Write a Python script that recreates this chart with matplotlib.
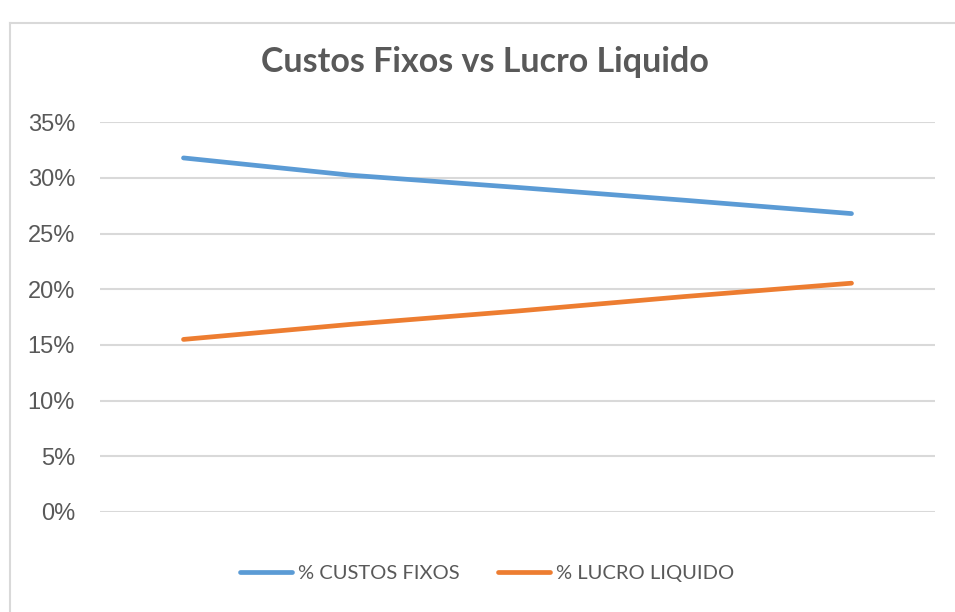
import matplotlib
matplotlib.use("Agg")
import matplotlib.pyplot as plt
from matplotlib.lines import Line2D
from matplotlib.ticker import FuncFormatter

# Data
categories = ["", "", "", "", ""]
custos_fixos = [0.318, 0.3025, 0.2915, 0.280, 0.268]
lucro_liquido = [0.155, 0.1685, 0.1805, 0.1935, 0.2055]
series_names = ["% CUSTOS FIXOS", "% LUCRO LIQUIDO"]
title = "Custos Fixos vs Lucro Liquido"
yticks = [0.0, 0.05, 0.10, 0.15, 0.20, 0.25, 0.30, 0.35]

W, H = 955, 612
fig = plt.figure(figsize=(W / 100, H / 100), dpi=100)
fig.patch.set_facecolor("white")

# chart-area border (partially visible)
border_col = "#D9D9D9"
fig.add_artist(Line2D([9.5 / W, 9.5 / W], [0, 1 - 23 / H], transform=fig.transFigure,
                      color=border_col, lw=1.5))
fig.add_artist(Line2D([9.5 / W, 1.0], [1 - 23 / H, 1 - 23 / H], transform=fig.transFigure,
                      color=border_col, lw=1.5))

left, right, top, bottom = 100, 935, 122.3, 512
ax = fig.add_axes([left / W, 1 - bottom / H, (right - left) / W, (bottom - top) / H])

x = list(range(len(categories)))
blue = "#5B9BD5"
orange = "#ED7D31"
ax.plot(x, custos_fixos, color=blue, lw=3.4, solid_capstyle="round", solid_joinstyle="round",
        label=series_names[0], zorder=3)
ax.plot(x, lucro_liquido, color=orange, lw=3.4, solid_capstyle="round", solid_joinstyle="round",
        label=series_names[1], zorder=3)

ax.set_xlim(-0.5, len(categories) - 0.5)
ax.set_ylim(0, 0.35)
ax.set_yticks(yticks)
ax.yaxis.set_major_formatter(FuncFormatter(lambda v, p: f"{v*100:.0f}%"))
ax.set_xticks([])
for s in ax.spines.values():
    s.set_visible(False)
ax.grid(axis="y", color="#D9D9D9", lw=1.5, zorder=0)
ax.tick_params(axis="y", length=0, pad=18, labelsize=17, labelcolor="#595959")
for lab in ax.get_yticklabels():
    lab.set_fontfamily("Liberation Sans")

fig.text(485 / W, 1 - 62 / H, title, ha="center", va="center", fontsize=24.5,
         fontweight="bold", color="#595959", family="Lato")

handles = [Line2D([], [], color=blue, lw=3.4, solid_capstyle="round"),
           Line2D([], [], color=orange, lw=3.4, solid_capstyle="round")]
fig.legend(handles, series_names, loc="center", bbox_to_anchor=(487 / W, 1 - 573 / H),
           ncol=2, frameon=False, prop={"family": "Lato", "size": 14.5},
           labelcolor="#595959", handlelength=2.6, handletextpad=0.3, columnspacing=1.9)

fig.savefig("out.png", dpi=100, facecolor="white")
